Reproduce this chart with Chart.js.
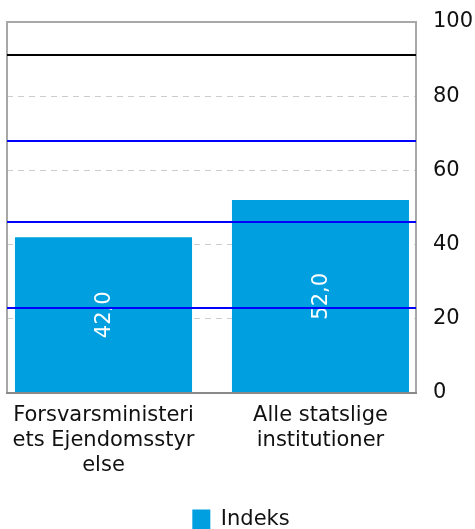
<!DOCTYPE html>
<html>
<head>
<meta charset="utf-8">
<script src="https://cdn.jsdelivr.net/npm/chart.js@4/dist/chart.umd.min.js"></script>
<style>
  html, body { margin: 0; padding: 0; background: #fff; }
  #wrap { width: 475px; height: 529px; }
</style>
</head>
<body>
<div id="wrap"><canvas id="chart"></canvas></div>
<script>
// chart data
const categories = [
   ['Forsvarsministeri', 'ets Ejendomsstyr', 'else'],
   ['Alle statslige', 'institutioner']
];
const seriesName = 'Indeks';
const indeksValues = [42, 52];
const yTicks = [0, 20, 40, 60, 80, 100];
// horizontal reference lines (value, colour)
const refValues = [91, 68, 46, 23];
const refColors = ['#000000', '#0000ff', '#0000ff', '#0000ff'];

const barColor = '#009fdf';

Chart.defaults.font.family = '"DejaVu Sans", Verdana, sans-serif';
Chart.defaults.font.size = 21;
Chart.defaults.color = '#111';

// grey frame round the plot area
const framePlugin = {
   id: 'frame',
   beforeDatasetsDraw(chart) {
      const a = chart.chartArea, ctx = chart.ctx;
      ctx.save();
      ctx.strokeStyle = '#a8a8a8';
      ctx.lineWidth = 2;
      ctx.strokeRect(a.left, a.top, a.right - a.left, a.bottom - a.top);
      ctx.restore();
   },
   afterDraw(chart) {
      const a = chart.chartArea, ctx = chart.ctx;
      ctx.save();
      ctx.strokeStyle = '#8a8a8a';
      ctx.lineWidth = 2;
      ctx.beginPath();
      ctx.moveTo(a.left - 1, a.bottom);
      ctx.lineTo(a.right + 1, a.bottom);
      ctx.stroke();
      ctx.restore();
   }
};

// values written inside the bars, turned a quarter
const barLabelPlugin = {
   id: 'barLabels',
   afterDatasetsDraw(chart) {
      const ctx = chart.ctx;
      const meta = chart.getDatasetMeta(0);
      ctx.save();
      ctx.fillStyle = '#ffffff';
      ctx.font = '21px "DejaVu Sans", Verdana, sans-serif';
      ctx.textAlign = 'center';
      ctx.textBaseline = 'middle';
      meta.data.forEach((bar, i) => {
         const txt = indeksValues[i].toFixed(1).replace('.', ',');
         const cy = (bar.y + bar.base) / 2;
         ctx.save();
         ctx.translate(bar.x + 1, cy);
         ctx.rotate(-Math.PI / 2);
         ctx.fillText(txt, 0, 0);
         ctx.restore();
      });
      ctx.restore();
   }
};

// reference lines across the whole plot
const refLinePlugin = {
   id: 'refLines',
   afterDatasetsDraw(chart) {
      const ctx = chart.ctx, a = chart.chartArea, y = chart.scales.y;
      ctx.save();
      ctx.lineWidth = 2;
      refValues.forEach((v, i) => {
         const py = Math.round(y.getPixelForValue(v));
         ctx.strokeStyle = refColors[i];
         ctx.beginPath();
         ctx.moveTo(a.left, py);
         ctx.lineTo(a.right, py);
         ctx.stroke();
      });
      ctx.restore();
   }
};

const xMin = -0.4447, xMax = 1.4401;

new Chart(document.getElementById('chart'), {
   type: 'bar',
   data: {
      datasets: [{
         label: seriesName,
         data: indeksValues.map((v, i) => ({ x: i, y: v })),
         backgroundColor: barColor,
         borderWidth: 0,
         categoryPercentage: 1,
         barPercentage: 0.816
      }]
   },
   options: {
      responsive: true,
      maintainAspectRatio: false,
      animation: false,
      layout: {
         padding: { left: 7, right: 0, top: 22, bottom: -11 }
      },
      scales: {
         x: {
            type: 'linear',
            offset: false,
            min: xMin,
            max: xMax,
            afterBuildTicks: scale => {
               scale.ticks = categories.map((c, i) => ({ value: i }));
            },
            afterFit: scale => {
               scale.height = 116;
               scale.paddingLeft = 0;
               scale.paddingRight = 0;
            },
            ticks: {
               callback: v => categories[v] || '',
               maxRotation: 0,
               autoSkip: false,
               padding: 10,
               color: '#111',
               font: { lineHeight: 1.2 }
            },
            grid: { display: false, drawTicks: false, offset: false },
            border: { display: false }
         },
         y: {
            position: 'right',
            min: 0,
            max: 100,
            afterBuildTicks: scale => {
               scale.ticks = yTicks.map(v => ({ value: v }));
            },
            afterFit: scale => {
               scale.width = 59;
               scale.paddingTop = 0;
               scale.paddingBottom = 0;
            },
            ticks: {
               padding: 17,
               color: '#111'
            },
            grid: {
               drawTicks: false,
               color: ctx => (ctx.tick && (ctx.tick.value === 0 || ctx.tick.value === 100)) ? 'rgba(0,0,0,0)' : '#cccccc',
               lineWidth: 1
            },
            border: { display: false, dash: [6, 5] }
         }
      },
      plugins: {
         legend: {
            position: 'bottom',
            labels: {
               boxWidth: 18,
               boxHeight: 20,
               padding: 0,
               color: '#111'
            }
         },
         tooltip: { enabled: false }
      }
   },
   plugins: [framePlugin, barLabelPlugin, refLinePlugin]
});
</script>
</body>
</html>
